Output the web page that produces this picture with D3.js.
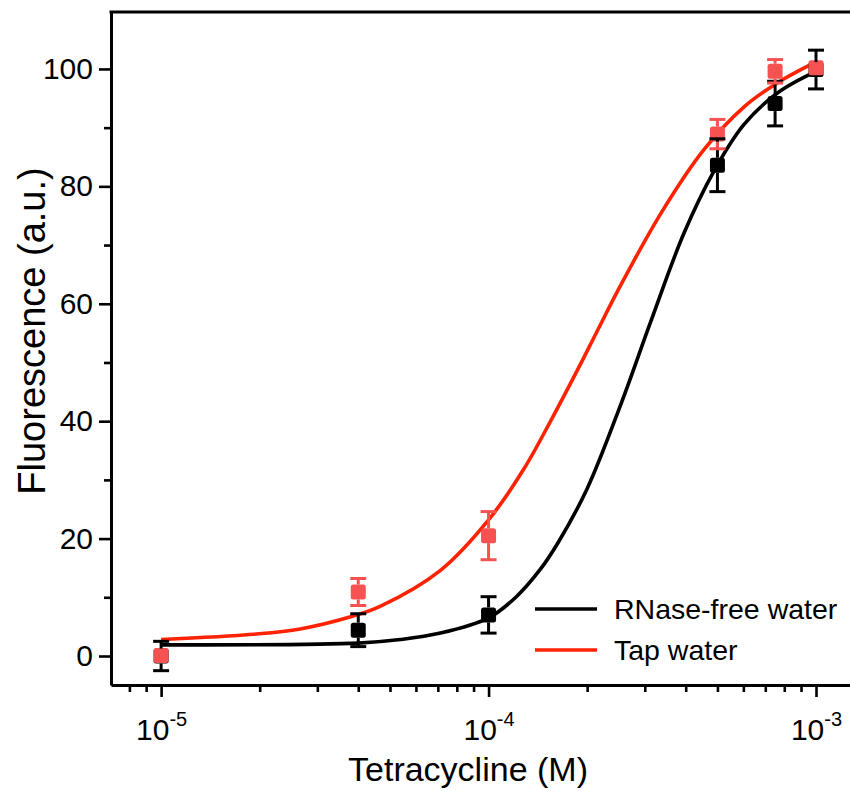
<!DOCTYPE html>
<html>
<head>
<meta charset="utf-8">
<script src="https://cdn.jsdelivr.net/npm/d3@7"></script>
<style>
  body { margin: 0; background: #fff; }
  svg { display: block; font-family: "Liberation Sans", Arial, sans-serif; }
</style>
</head>
<body>
<svg id="chart" width="850" height="791"></svg>
<script>
// measured points
const conc = [1e-5, 4e-5, 1e-4, 5e-4, 7.5e-4, 1e-3];
const rnaseMean = [0.0, 4.4, 7.0, 83.6, 94.1, 99.9];
const rnaseErr = [2.5, 2.8, 3.1, 4.5, 3.8, 3.3];
const tapMean = [0.1, 10.9, 20.5, 88.9, 99.6, 100.2];
const tapErr = [0.8, 2.3, 4.1, 2.5, 2.0, 1.2];

// fitted curves
const rnaseFitX = [1e-5, 4e-5, 5.38e-5, 7.13e-5, 1e-4, 1.2e-4, 1.44e-4, 1.63e-4, 2e-4, 2.54e-4, 3.13e-4, 3.95e-4, 4.88e-4, 6.02e-4, 7.66e-4, 1e-3];
const rnaseFitY = [1.9, 2.2, 2.8, 3.9, 6.5, 9.8, 14.8, 19.3, 28.5, 43, 57, 72, 82.6, 90.5, 96, 99.6];
const tapFitX = [1e-5, 1.91e-5, 2.66e-5, 3.86e-5, 4.68e-5, 7.13e-5, 1.01e-4, 1.28e-4, 1.56e-4, 1.9e-4, 2.14e-4, 2.54e-4, 3.36e-4, 4.54e-4, 6.02e-4, 7.66e-4, 1e-3];
const tapFitY = [2.8, 3.7, 4.6, 6.8, 8.5, 14.6, 23.5, 31.8, 40.4, 49.5, 55.2, 63.3, 75.4, 86.2, 93.5, 97.7, 101.2];

const xMajor = [1e-5, 1e-4, 1e-3];
const xExp = ["-5", "-4", "-3"];
const yMajor = [0, 20, 40, 60, 80, 100];
const yMinor = [10, 30, 50, 70, 90];
const seriesNames = ["RNase-free water", "Tap water"];

const BLACK = "#000";
const RED_LINE = "#ff2200";
const RED_PT = "#f65252";

const MARGIN = { left: 111, right: 850, top: 12, bottom: 685 };

let svg = d3.select("#chart");

let x = d3.scaleLog()
    .domain([7.03e-6, 1.27e-3])
    .range([MARGIN.left, MARGIN.right]);
let y = d3.scaleLinear()
    .domain([-4.94, 109.7])
    .range([MARGIN.bottom, MARGIN.top]);

// minor x ticks 2..9 x 10^n
let xMinor = [];
for (let e = -6; e <= -3; ++e)
    for (let m = 2; m <= 9; ++m) {
        let v = m * Math.pow(10, e);
        if (v > x.domain()[0] && v < x.domain()[1]) xMinor.push(v);
    }

// minor ticks first
svg.append("g")
    .attr("transform", `translate(0,${MARGIN.bottom})`)
    .call(d3.axisBottom(x).tickValues(xMinor).tickSize(7).tickFormat(""))
    .call(g => g.select(".domain").remove())
    .selectAll("line").attr("stroke-width", 2.6);
svg.append("g")
    .attr("transform", `translate(${MARGIN.left},0)`)
    .call(d3.axisLeft(y).tickValues(yMinor).tickSize(7).tickFormat(""))
    .call(g => g.select(".domain").remove())
    .selectAll("line").attr("stroke-width", 2.6);

// x axis
let xAxis = svg.append("g")
    .attr("transform", `translate(0,${MARGIN.bottom})`)
    .call(d3.axisBottom(x).tickValues(xMajor).tickSize(12).tickSizeOuter(0));
xAxis.select(".domain").attr("stroke-width", 3);
xAxis.selectAll(".tick line").attr("stroke-width", 2.6);
xAxis.selectAll(".tick text")
    .attr("font-size", 30)
    .attr("fill", "#000")
    .attr("y", 55)
    .attr("dy", 0)
    .each(function(d, i) {
        let t = d3.select(this).text("");
        t.append("tspan").text("10");
        t.append("tspan").text(xExp[i]).attr("font-size", 20).attr("dy", "-0.68em");
    });

// y axis
let yAxis = svg.append("g")
    .attr("transform", `translate(${MARGIN.left},0)`)
    .call(d3.axisLeft(y).tickValues(yMajor).tickSize(12).tickSizeOuter(0).tickPadding(6));
yAxis.select(".domain").attr("stroke-width", 3);
yAxis.selectAll(".tick line").attr("stroke-width", 2.6);
yAxis.selectAll(".tick text").attr("font-size", 30).attr("fill", "#000");

// top frame line
svg.append("line")
    .attr("x1", MARGIN.left - 1.5).attr("x2", MARGIN.right)
    .attr("y1", MARGIN.top).attr("y2", MARGIN.top)
    .attr("stroke", "#000").attr("stroke-width", 3);

// axis titles
svg.append("text")
    .attr("x", 468).attr("y", 781)
    .attr("text-anchor", "middle")
    .attr("font-size", 34)
    .text("Tetracycline (M)");
svg.append("text")
    .attr("transform", "translate(45,331) rotate(-90)")
    .attr("text-anchor", "middle")
    .attr("font-size", 38)
    .text("Fluorescence (a.u.)");

// fitted curves
let line = d3.line()
    .x(d => x(d[0]))
    .y(d => y(d[1]))
    .curve(d3.curveCatmullRom.alpha(0.5));
svg.append("path")
    .datum(d3.zip(rnaseFitX, rnaseFitY))
    .attr("d", line)
    .attr("fill", "none").attr("stroke", BLACK).attr("stroke-width", 3.6);
svg.append("path")
    .datum(d3.zip(tapFitX, tapFitY))
    .attr("d", line)
    .attr("fill", "none").attr("stroke", RED_LINE).attr("stroke-width", 3.6);

// scatter + error bars
const SQ = 15;
function drawSquares(means, color) {
    svg.append("g").selectAll("rect")
        .data(d3.zip(conc, means))
        .join("rect")
        .attr("x", d => x(d[0]) - SQ / 2)
        .attr("y", d => y(d[1]) - SQ / 2)
        .attr("width", SQ).attr("height", SQ)
        .attr("rx", 2.5)
        .attr("fill", color);
}
function drawErrors(means, errs, color) {
    let g = svg.append("g").attr("stroke", color).attr("stroke-width", 3);
    let data = d3.zip(conc, means, errs);
    // stems go from the symbol edge outward
    g.selectAll(".up").data(data).join("line")
        .attr("x1", d => x(d[0])).attr("x2", d => x(d[0]))
        .attr("y1", d => y(d[1]) - SQ / 2).attr("y2", d => Math.min(y(d[1] + d[2]), y(d[1]) - SQ / 2));
    g.selectAll(".dn").data(data).join("line")
        .attr("x1", d => x(d[0])).attr("x2", d => x(d[0]))
        .attr("y1", d => y(d[1]) + SQ / 2).attr("y2", d => Math.max(y(d[1] - d[2]), y(d[1]) + SQ / 2));
    g.selectAll(".cap1").data(data.filter(d => y(d[1]) - y(d[1] + d[2]) > SQ / 2)).join("line")
        .attr("x1", d => x(d[0]) - 8).attr("x2", d => x(d[0]) + 8)
        .attr("y1", d => y(d[1] + d[2])).attr("y2", d => y(d[1] + d[2]));
    g.selectAll(".cap2").data(data.filter(d => y(d[1] - d[2]) - y(d[1]) > SQ / 2)).join("line")
        .attr("x1", d => x(d[0]) - 8).attr("x2", d => x(d[0]) + 8)
        .attr("y1", d => y(d[1] - d[2])).attr("y2", d => y(d[1] - d[2]));
}
drawSquares(rnaseMean, BLACK);
drawSquares(tapMean, RED_PT);
drawErrors(rnaseMean, rnaseErr, BLACK);
drawErrors(tapMean, tapErr, RED_PT);

// legend
let legend = svg.append("g");
[BLACK, RED_LINE].forEach((c, i) => {
    let ly = 609 + i * 41;
    legend.append("line")
        .attr("x1", 535).attr("x2", 597)
        .attr("y1", ly).attr("y2", ly)
        .attr("stroke", c).attr("stroke-width", 3.6);
    legend.append("text")
        .attr("x", 614).attr("y", ly)
        .attr("dy", "0.35em")
        .attr("font-size", 28.5)
        .text(seriesNames[i]);
});
</script>
</body>
</html>
